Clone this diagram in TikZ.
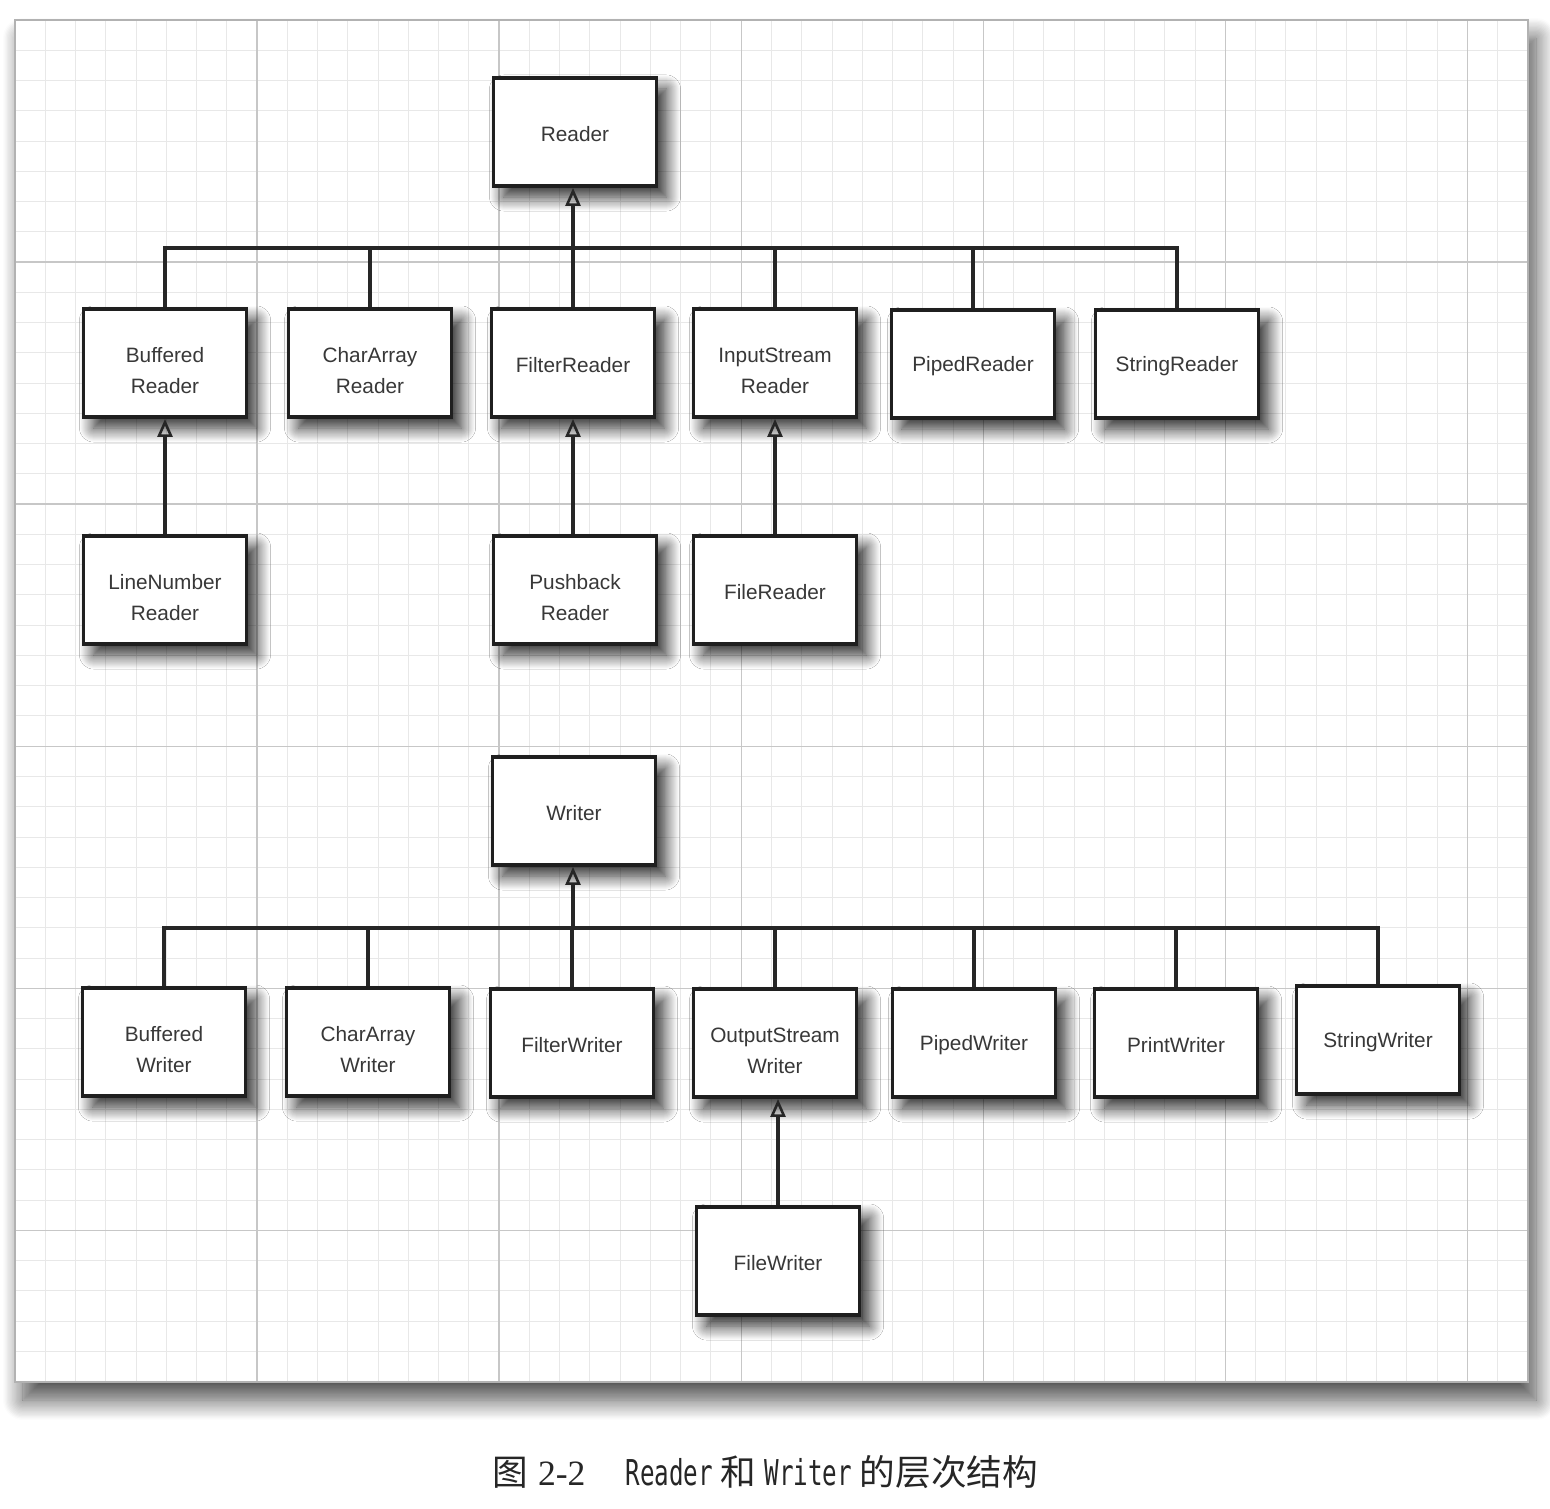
\documentclass[tikz,border=0pt]{standalone}
\usepackage{fontspec}
\setmainfont{Liberation Sans}
\newfontfamily\cjk{Noto Sans CJK SC}
\newfontfamily\capmono[FakeStretch=0.68]{DejaVu Sans Mono}
\newfontfamily\capserif{Liberation Serif}
\newcommand\twoline[2]{\rule{0pt}{14.6pt}#1\\#2}
\usetikzlibrary{arrows.meta,shadows.blur}
\begin{document}
\begin{tikzpicture}[x=0.5pt,y=-0.5pt,
  cls/.style={draw=black!88, line width=1.9pt, fill=white, minimum width=81.5pt, minimum height=54pt,
    inner sep=0pt, align=center, font=\fontsize{10.4}{15.5}\selectfont, text=black!78,
    execute at begin node={\rule{0pt}{9.8pt}},
    blur shadow={shadow xshift=5pt, shadow yshift=-5.5pt, shadow blur radius=7pt, shadow blur steps=14, shadow opacity=85}},
  conn/.style={line width=1.6pt, draw=black!85},
  inh/.style={conn, -{Triangle[open, width=7.5pt, length=9pt, line width=1.3pt]}},
  minorline/.style={draw=black!9, line width=0.5pt},
  majorline/.style={draw=black!22, line width=0.7pt}]
\useasboundingbox (0,0) rectangle (1550,1508);
% paper with grid
\path[fill=white, blur shadow={shadow xshift=4pt, shadow yshift=-9pt, shadow blur radius=10pt, shadow blur steps=16, shadow opacity=70}]
  (15,20) rectangle (1528,1382);
\foreach \i in {1,...,49} {\draw[minorline] ({15+30.26*\i},20) -- ({15+30.26*\i},1382);}
\foreach \j in {1,...,44} {\draw[minorline] (15,{20+30.26*\j}) -- (1528,{20+30.26*\j});}
\foreach \i in {8,16,24,32,40,48} {\draw[majorline] ({15+30.26*\i},20) -- ({15+30.26*\i},1382);}
\foreach \j in {8,16,24,32,40} {\draw[majorline] (15,{20+30.26*\j}) -- (1528,{20+30.26*\j});}
\draw[draw=black!30, line width=0.6pt] (15,20) rectangle (1528,1382);

% Reader hierarchy
\node[cls] (reader) at (575,132) {Reader};
\node[cls] (bufr) at (165,363) {\twoline{Buffered}{Reader}};
\node[cls] (charr) at (370,363) {\twoline{CharArray}{Reader}};
\node[cls] (filtr) at (573,363) {FilterReader};
\node[cls] (isr) at (775,363) {\twoline{InputStream}{Reader}};
\node[cls] (piper) at (973,364) {PipedReader};
\node[cls] (strr) at (1177,364) {StringReader};
\node[cls] (lnr) at (165,590) {\twoline{LineNumber}{Reader}};
\node[cls] (pbr) at (575,590) {\twoline{Pushback}{Reader}};
\node[cls] (filer) at (775,590) {FileReader};

\coordinate (rbus) at (573,248);
\foreach \c in {bufr,charr,filtr,isr,piper,strr} {\draw[conn] (\c.north) |- (rbus);}
\draw[inh] (rbus) -- (rbus |- reader.south);
\draw[inh] (lnr.north) -- (bufr.south);
\draw[inh] (pbr.north -| filtr.south) -- (filtr.south);
\draw[inh] (filer.north) -- (isr.south);

% Writer hierarchy
\node[cls] (writer) at (574,811) {Writer};
\node[cls] (bufw) at (164,1042) {\twoline{Buffered}{Writer}};
\node[cls] (charw) at (368,1042) {\twoline{CharArray}{Writer}};
\node[cls] (filtw) at (572,1043) {FilterWriter};
\node[cls] (osw) at (775,1043) {\twoline{OutputStream}{Writer}};
\node[cls] (pipew) at (974,1043) {PipedWriter};
\node[cls] (printw) at (1176,1043) {PrintWriter};
\node[cls] (strw) at (1378,1040) {StringWriter};
\node[cls] (filew) at (778,1261) {FileWriter};

\coordinate (wbus) at (573,928);
\foreach \c in {bufw,charw,filtw,osw,pipew,printw,strw} {\draw[conn] (\c.north) |- (wbus);}
\draw[inh] (wbus) -- (wbus |- writer.south);
\draw[inh] (filew.north) -- (filew.north |- osw.south);

% caption
\node[anchor=west, inner sep=0pt, text=black!85] (cap) at (492,1472)
  {\fontsize{17.8}{20}\selectfont\cjk 图\hspace{5pt}\capserif 2-2\hspace{20pt}\capmono Reader\hspace{4pt}\cjk 和\hspace{4pt}\capmono Writer\hspace{4pt}\cjk 的层次结构};
\end{tikzpicture}
\end{document}
